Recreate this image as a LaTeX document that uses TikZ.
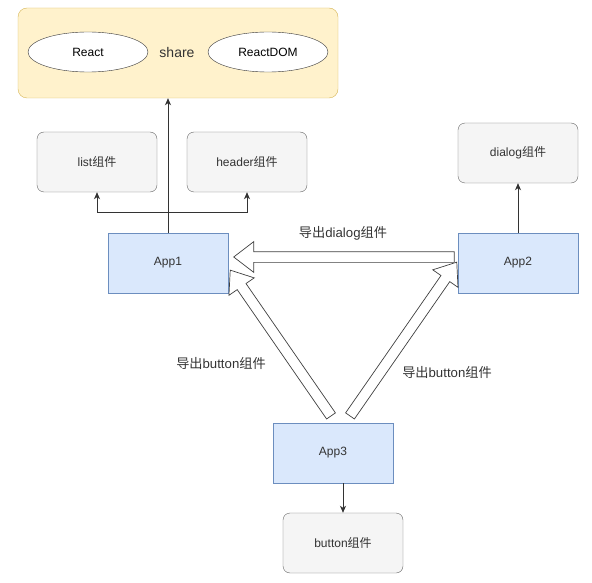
\documentclass[tikz,border=0pt]{standalone}
\usepackage{fontspec}
\setmainfont{Liberation Sans}
\newfontfamily\cjk{Noto Sans CJK SC}
\usepackage{tikz}
\usetikzlibrary{arrows.meta, positioning, shapes.geometric, shapes.arrows, calc}
\definecolor{sharefill}{HTML}{FFF2CC}
\definecolor{sharedraw}{HTML}{D6B656}
\definecolor{compfill}{HTML}{F5F5F5}
\definecolor{compdraw}{HTML}{666666}
\definecolor{appfill}{HTML}{DAE8FC}
\definecolor{appdraw}{HTML}{6C8EBF}
\definecolor{txt}{HTML}{333333}

\begin{document}
\begin{tikzpicture}[
    x=1pt, y=-1pt,
    font=\fontsize{12}{14}\selectfont,
    shared/.style={rectangle, rounded corners=9pt, draw=sharedraw, fill=sharefill, minimum width=320pt, minimum height=90pt},
    lib/.style={ellipse, draw=black!80, fill=white, minimum width=120pt, minimum height=40pt, inner sep=0pt},
    comp/.style={rectangle, rounded corners=7pt, draw=compdraw, fill=compfill, text=txt, minimum width=120pt, minimum height=60pt},
    app/.style={rectangle, draw=appdraw, fill=appfill, text=txt, minimum width=120pt, minimum height=60pt},
    arrow/.style={-{Stealth[length=7pt, width=6pt, inset=2pt]}, black!80, line width=0.8pt},
    fat/.style={single arrow, draw=black!75, fill=white, line width=0.7pt, inner xsep=0pt, inner ysep=5pt, minimum width=30pt, single arrow head extend=10pt, single arrow tip angle=75},
    lbl/.style={font=\fontsize{13.2}{15}\selectfont, text=txt}
]
\useasboundingbox (0,0) rectangle (592,583);

% shared libraries
\node[shared] (share) at (178,53) {};
\node[lib] (react) at (88,52) {React};
\node[lib] (reactdom) at (268,52) {ReactDOM};
\node[font=\fontsize{14}{16}\selectfont, text=txt] (sharetxt) at (177,52) {share};

% components
\node[comp] (list) at (97,162) {list{\cjk 组件}};
\node[comp] (header) at (247,162) {header{\cjk 组件}};
\node[comp] (dialog) at (518,153) {dialog{\cjk 组件}};
\node[comp] (button) at (343,543) {button{\cjk 组件}};

% apps
\node[app] (app1) at (168,263) {App1};
\node[app] (app2) at (518,263) {App2};
\node[app] (app3) at (333,453) {App3};

\coordinate (split) at (168,212);
\coordinate (root1) at ($(app2.west)+(0,-6)$);
\coordinate (tip1) at ($(app1.east)+(9,-6)$);
\coordinate (tip2) at ($(app1.east)+(4,10)$);
\coordinate (tip3) at ($(app2.west)+(-3,2)$);
\coordinate (root2) at ($(app3.north)+(0,-4)$);
\coordinate (root3) at ($(app3.north)+(15,-4)$);

\draw[arrow] (app1.north) -- (app1 |- share.south);
\draw[arrow] (app1.north) -- (split) -| (list.south);
\draw[arrow] (split) -| (header.south);
\draw[arrow] (app2.north) -- (dialog.south);
\draw[arrow] (button.north |- app3.south) -- (button.north);

% exports
\path let \p1=(root1), \p2=(tip1), \n1={atan2(\y2-\y1,\x2-\x1)}, \n2={veclen(\x2-\x1,\y2-\y1)} in
    node[fat, minimum height=\n2, rotate=\n1] (exp1) at ($(\p1)!0.5!(\p2)$) {};
\path let \p1=(root2), \p2=(tip2), \n1={atan2(\y2-\y1,\x2-\x1)}, \n2={veclen(\x2-\x1,\y2-\y1)} in
    node[fat, minimum height=\n2, rotate=\n1] (exp2) at ($(\p1)!0.5!(\p2)$) {};
\path let \p1=(root3), \p2=(tip3), \n1={atan2(\y2-\y1,\x2-\x1)}, \n2={veclen(\x2-\x1,\y2-\y1)} in
    node[fat, minimum height=\n2, rotate=\n1] (exp3) at ($(\p1)!0.5!(\p2)$) {};

\node[lbl] (lbl1) at (343,233) {{\cjk 导出}dialog{\cjk 组件}};
\node[lbl] (lbl2) at (221,363) {{\cjk 导出}button{\cjk 组件}};
\node[lbl] (lbl3) at (447,372) {{\cjk 导出}button{\cjk 组件}};
\end{tikzpicture}
\end{document}
